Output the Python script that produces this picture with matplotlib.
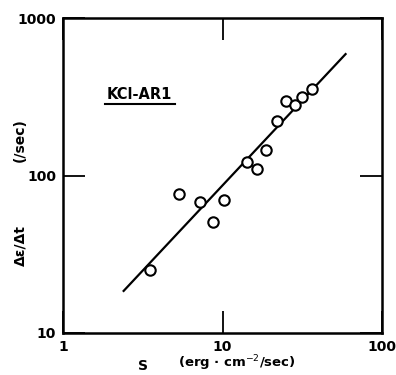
import matplotlib
matplotlib.use("Agg")
import matplotlib.pyplot as plt
import numpy as np

# data (log-log)
s_vals = [3.5, 5.3, 7.2, 8.7, 10.2, 14.3, 16.4, 18.7, 21.9, 24.9, 28.6, 31.5, 36.2]
rate_vals = [25, 76, 68, 51, 70, 122, 110, 145, 221, 296, 282, 316, 352]
fit_s = [2.4, 59]
fit_rate = [18.5, 590]

x_ticks = [1, 10, 100]
x_ticklabels = ["1", "10", "100"]
y_ticks = [10, 100, 1000]
y_ticklabels = ["10", "100", "1000"]

plt.rcParams['font.family'] = ['DejaVu Sans']

fig = plt.figure(figsize=(3.96, 3.75), dpi=100)
ax = fig.add_axes([0.159, 0.112, 0.806, 0.84])

ax.plot(fit_s, fit_rate, color='black', linewidth=1.6, zorder=2)
ax.plot(s_vals, rate_vals, linestyle='none', marker='o', markersize=7.5,
        markerfacecolor='white', markeredgecolor='black', markeredgewidth=1.5,
        zorder=3)

ax.set_xscale('log')
ax.set_yscale('log')
ax.set_xlim(1, 100)
ax.set_ylim(10, 1000)

ax.set_xticks(x_ticks)
ax.set_xticklabels(x_ticklabels, fontsize=10, fontweight='bold')
ax.set_yticks(y_ticks)
ax.set_yticklabels(y_ticklabels, fontsize=10, fontweight='bold')
ax.minorticks_off()
ax.tick_params(direction='in', length=16, width=1.3, top=True, right=True)
ax.tick_params(axis='x', pad=5)
ax.tick_params(axis='y', pad=5)

for sp in ax.spines.values():
    sp.set_linewidth(1.8)

# panel label
ax.text(0.137, 0.756, "KCl-AR1", transform=ax.transAxes, fontsize=10.5,
        fontweight='bold', ha='left', va='center')
ax.plot([0.132, 0.351], [0.728, 0.728], transform=ax.transAxes,
        color='black', linewidth=1.5, clip_on=False)

# axis labels placed as in the original
fig.text(20 / 396, 1 - 140 / 375, "(/sec)", rotation=90, fontsize=10,
         fontweight='bold', ha='center', va='center')
fig.text(20 / 396, 1 - 245 / 375, "Δε/Δt", rotation=90, fontsize=10,
         fontweight='bold', ha='center', va='center')
fig.text(143 / 396, 1 - 366 / 375, "S", fontsize=10, fontweight='bold',
         ha='center', va='center')
fig.text(237 / 396, 1 - 363 / 375, "(erg · cm$^{-2}$/sec)", fontsize=9.5,
         fontweight='bold', ha='center', va='center')

fig.savefig("out.png", dpi=100)
